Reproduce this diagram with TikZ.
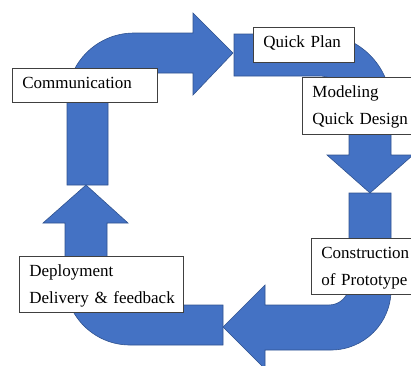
\documentclass[tikz,border=0pt]{standalone}
\usepackage{fontspec}
\setmainfont{Liberation Serif}
\begin{document}
\begin{tikzpicture}[x=1pt, y=-1pt, font=\fontsize{17}{27}\selectfont]
				\clip (0,0) rectangle (411,365);
				\definecolor{arrow area}{HTML}{4472C4}
				\definecolor{arrow edge}{HTML}{2F528F}
				\colorlet{box edge}{black!75}
				\tikzset{bent/.style={fill=arrow area, draw=arrow edge, line width=0.6pt},
					box/.style={draw=box edge, fill=white, line width=0.8pt, anchor=north west,
						inner xsep=10pt, inner ysep=0pt, align=left},
					oneline/.style={text height=11pt, text depth=5pt},
					twoline/.style={text height=11pt, text depth=27pt}}
				\def\firstarrow{(67,185) -- (67,100) arc[start angle=180, end angle=270, radius=67]
					-- (193,33) -- (193,13) -- (233,53) -- (193,95) -- (193,73) -- (134,73)
					arc[start angle=270, end angle=180, radius=26] -- (108,185) -- cycle}
				\def\secondarrow{(234,34) -- (319,34) arc[start angle=270, end angle=360, radius=72]
					-- (391,155) -- (413,155) -- (370,193) -- (327,155) -- (349,155) -- (349,106)
					arc[start angle=0, end angle=-90, radius=30] -- (234,76) -- cycle}
				\def\thirdarrow{(391,193) -- (391,290) arc[start angle=0, end angle=90, radius=60]
					-- (265,350) -- (265,369) -- (223,327) -- (265,285) -- (265,305) -- (329,305)
					arc[start angle=90, end angle=0, radius=20] -- (349,193) -- cycle}
				\def\fourtharrow{(223,305) -- (223,345) -- (130,345) arc[start angle=90, end angle=180, radius=65]
					-- (65,223) -- (43,223) -- (86,185) -- (128,223) -- (107,223) -- (107,285)
					arc[start angle=180, end angle=90, radius=20] -- cycle}
				\draw[bent] \firstarrow;
				\draw[bent] \secondarrow;
				\draw[bent] \thirdarrow;
				\draw[bent] \fourtharrow;
				% stage boxes
				\node[box, oneline, minimum width=145pt, minimum height=34pt, text width=125pt] (comm) at (12,68) {Communication};
				\node[box, oneline, minimum width=101pt, minimum height=35pt, text width=81pt] (plan) at (253,27) {Quick Plan};
				\node[box, twoline, minimum width=120pt, minimum height=57pt, text width=100pt] (model) at (302,77) {Modeling\\Quick Design};
				\node[box, twoline, minimum width=120pt, minimum height=56pt, text width=100pt] (build) at (311,238) {Construction\\of Prototype};
				\node[box, twoline, minimum width=164pt, minimum height=56pt, text width=144pt] (deploy) at (19,256) {Deployment\\\mbox{Delivery \& feedback}};
		\end{tikzpicture}
\end{document}
